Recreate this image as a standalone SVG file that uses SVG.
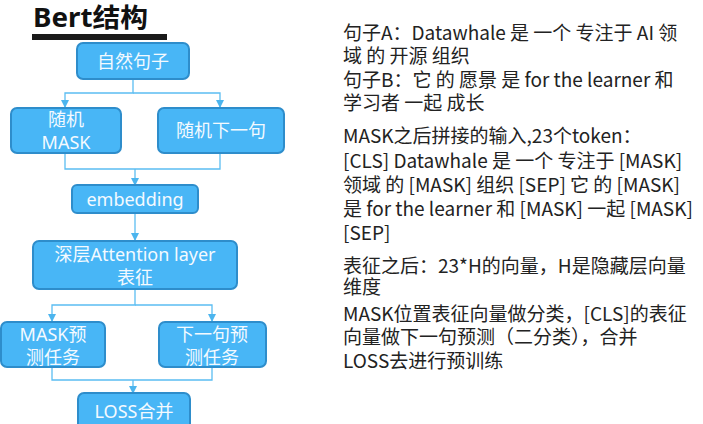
<svg xmlns="http://www.w3.org/2000/svg" width="703" height="424" viewBox="0 0 703 424">
<style>
.box{fill:#48b6f6;stroke:#2e8dcb;stroke-width:2}
.nt{font-family:"Noto Sans","Noto Sans CJK SC",sans-serif;font-size:18px;fill:#f4faff;text-anchor:middle}
.rt{font-family:"Noto Sans CJK SC",sans-serif;font-size:19px;fill:#222222}
.cn{fill:none;stroke:#5bbdf2;stroke-width:1.3}
</style>
<defs>
<marker id="ah" viewBox="0 0 8 8" refX="7" refY="4" markerWidth="8" markerHeight="8" markerUnits="userSpaceOnUse" orient="auto">
<path d="M0 0 L8 4 L0 8 Z" fill="#4cb5ee"/>
</marker>
</defs>
<rect width="703" height="424" fill="#ffffff"/>
<g id="title">
<text x="33" y="27" font-family="Noto Sans,Noto Sans CJK SC,sans-serif" font-size="26" font-weight="bold" fill="#111" textLength="115" lengthAdjust="spacingAndGlyphs">Bert结构</text>
<rect x="32" y="34" width="135" height="6" fill="#1a1a1a"/>
</g>
<g id="connectors">
<path class="cn" d="M133 79 V93 H65 V107" marker-end="url(#ah)"/>
<path class="cn" d="M133 93 H220 V107" marker-end="url(#ah)"/>
<path class="cn" d="M65 153 V169 H135"/>
<path class="cn" d="M220 153 V169 H135"/>
<path class="cn" d="M135 169 V185" marker-end="url(#ah)"/>
<path class="cn" d="M135 213 V240" marker-end="url(#ah)"/>
<path class="cn" d="M135 289 V305 H52 V321" marker-end="url(#ah)"/>
<path class="cn" d="M135 305 H212 V321" marker-end="url(#ah)"/>
<path class="cn" d="M52 367 V380 H133"/>
<path class="cn" d="M212 367 V380 H133"/>
<path class="cn" d="M133 380 V393" marker-end="url(#ah)"/>
</g>
<g id="n_sentence">
<rect class="box" x="77" y="43" width="112" height="36" rx="6"/>
<text class="nt" x="133" y="68">自然句子</text>
</g>
<g id="n_mask">
<rect class="box" x="11" y="108" width="110" height="45" rx="6"/>
<text class="nt" x="66" y="126">随机</text>
<text class="nt" x="66" y="149">MASK</text>
</g>
<g id="n_next">
<rect class="box" x="158" y="108" width="126" height="45" rx="6"/>
<text class="nt" x="221" y="137">随机下一句</text>
</g>
<g id="n_embedding">
<rect class="box" x="72" y="185" width="126" height="28" rx="5"/>
<text class="nt" x="135" y="206">embedding</text>
</g>
<g id="n_attention">
<rect class="box" x="33" y="241" width="204" height="48" rx="6"/>
<text class="nt" x="135" y="261">深层Attention layer</text>
<text class="nt" x="135" y="284">表征</text>
</g>
<g id="n_maskpred">
<rect class="box" x="1" y="322" width="104" height="45" rx="6"/>
<text class="nt" x="53" y="341">MASK预</text>
<text class="nt" x="53" y="364">测任务</text>
</g>
<g id="n_nextpred">
<rect class="box" x="159" y="322" width="107" height="45" rx="6"/>
<text class="nt" x="212" y="341">下一句预</text>
<text class="nt" x="212" y="364">测任务</text>
</g>
<g id="n_loss">
<rect class="box" x="78" y="393" width="112" height="40" rx="6"/>
<text class="nt" x="134" y="418">LOSS合并</text>
</g>
<g id="notes">
<text class="rt" x="343" y="40">句子A：Datawhale 是 一个 专注于 AI 领</text>
<text class="rt" x="343" y="63">域 的 开源 组织</text>
<text class="rt" x="343" y="87">句子B：它 的 愿景 是 for the learner 和</text>
<text class="rt" x="343" y="110">学习者 一起 成长</text>
<text class="rt" x="343" y="143">MASK之后拼接的输入,23个token：</text>
<text class="rt" x="343" y="168">[CLS]  Datawhale 是 一个 专注于 [MASK]</text>
<text class="rt" x="343" y="192">领域 的 [MASK] 组织 [SEP] 它 的 [MASK]</text>
<text class="rt" x="343" y="216">是 for the learner  和 [MASK] 一起 [MASK]</text>
<text class="rt" x="343" y="240">[SEP]</text>
<text class="rt" x="343" y="273">表征之后：23*H的向量，H是隐藏层向量</text>
<text class="rt" x="343" y="294">维度</text>
<text class="rt" x="343" y="321">MASK位置表征向量做分类，[CLS]的表征</text>
<text class="rt" x="343" y="344">向量做下一句预测（二分类），合并</text>
<text class="rt" x="343" y="368">LOSS去进行预训练</text>
</g>
</svg>
